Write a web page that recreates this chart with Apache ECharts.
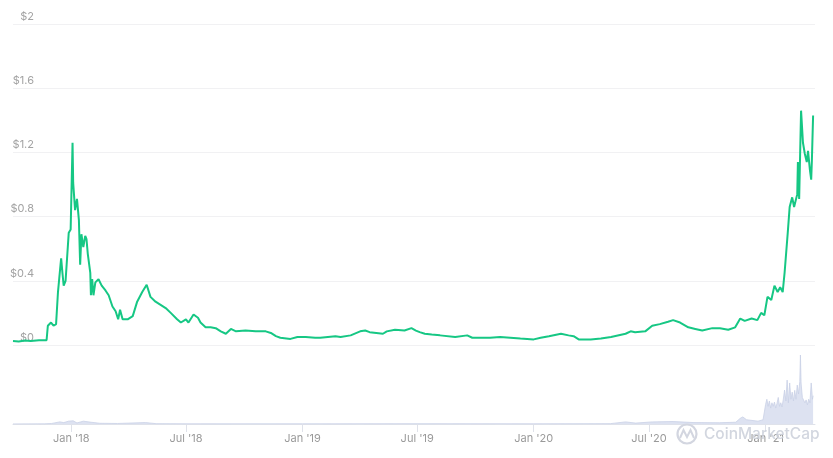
<!DOCTYPE html>
<html>
<head>
<meta charset="utf-8">
<script src="https://cdn.jsdelivr.net/npm/echarts@6/dist/echarts.min.js"></script>
<style>
html,body{margin:0;padding:0;background:#fff;}
#chart{width:833px;height:458px;}
</style>
</head>
<body>
<div id="chart"></div>
<script>
const priceDates = [
'2017-10-01','2017-10-10','2017-10-20','2017-10-29','2017-11-11','2017-11-23','2017-11-25','2017-11-30',
'2017-12-04','2017-12-08','2017-12-11','2017-12-15','2017-12-16','2017-12-18','2017-12-20','2017-12-23',
'2017-12-28','2017-12-31','2018-01-01','2018-01-03','2018-01-04','2018-01-07','2018-01-10','2018-01-13',
'2018-01-15','2018-01-17','2018-01-20','2018-01-23','2018-01-25','2018-01-27','2018-01-31','2018-02-01',
'2018-02-03','2018-02-05','2018-02-08','2018-02-13','2018-02-18','2018-02-24','2018-03-01','2018-03-07',
'2018-03-12','2018-03-16','2018-03-19','2018-03-23','2018-03-31','2018-04-08','2018-04-15','2018-04-23',
'2018-04-30','2018-05-06','2018-05-14','2018-05-22','2018-05-30','2018-06-07','2018-06-17','2018-06-23',
'2018-07-01','2018-07-05','2018-07-13','2018-07-20','2018-07-24','2018-08-01','2018-08-09','2018-08-17',
'2018-08-25','2018-09-02','2018-09-10','2018-09-18','2018-10-03','2018-10-19','2018-11-04','2018-11-12',
'2018-11-20','2018-11-27','2018-12-13','2018-12-24','2019-01-06','2019-01-21','2019-01-29','2019-02-22',
'2019-03-02','2019-03-18','2019-04-02','2019-04-10','2019-04-17','2019-05-08','2019-05-14','2019-05-27',
'2019-06-11','2019-06-22','2019-06-29','2019-07-05','2019-07-13','2019-07-24','2019-08-06','2019-08-30',
'2019-09-18','2019-09-26','2019-10-24','2019-11-09','2019-12-11','2020-01-01','2020-01-12','2020-01-25',
'2020-02-13','2020-02-25','2020-03-04','2020-03-12','2020-03-31','2020-04-16','2020-05-02','2020-05-25',
'2020-06-02','2020-06-09','2020-06-25','2020-07-06','2020-07-18','2020-07-31','2020-08-08','2020-08-19',
'2020-09-01','2020-09-12','2020-09-23','2020-10-09','2020-10-21','2020-11-03','2020-11-14','2020-11-22',
'2020-11-29','2020-12-10','2020-12-19','2020-12-25','2020-12-30','2021-01-04','2021-01-10','2021-01-15',
'2021-01-20','2021-01-24','2021-01-28','2021-01-31','2021-02-05','2021-02-08','2021-02-12','2021-02-15',
'2021-02-20','2021-02-21','2021-02-23','2021-02-26','2021-03-01','2021-03-04','2021-03-07','2021-03-09',
'2021-03-12','2021-03-14','2021-03-15','2021-03-17'
];
const priceValues = [
0.025,0.022,0.028,0.025,0.03,0.03,0.12,0.14,
0.12,0.13,0.33,0.50,0.54,0.45,0.37,0.40,
0.70,0.72,0.72,1.26,1.01,0.84,0.91,0.78,
0.50,0.69,0.61,0.68,0.66,0.57,0.45,0.31,
0.41,0.31,0.39,0.41,0.37,0.34,0.31,0.24,
0.21,0.16,0.22,0.16,0.16,0.18,0.27,0.33,
0.375,0.30,0.27,0.25,0.23,0.20,0.16,0.14,
0.16,0.14,0.19,0.17,0.14,0.11,0.11,0.105,
0.085,0.07,0.10,0.085,0.09,0.085,0.085,0.075,
0.055,0.045,0.038,0.05,0.05,0.045,0.045,0.055,
0.05,0.06,0.085,0.09,0.08,0.07,0.085,0.095,
0.09,0.105,0.09,0.08,0.07,0.065,0.06,0.05,
0.06,0.045,0.045,0.05,0.04,0.035,0.045,0.055,
0.07,0.06,0.055,0.035,0.035,0.04,0.05,0.07,
0.085,0.08,0.085,0.12,0.13,0.145,0.155,0.14,
0.11,0.10,0.09,0.105,0.105,0.095,0.11,0.165,
0.15,0.165,0.155,0.20,0.185,0.30,0.28,0.37,
0.33,0.36,0.33,0.45,0.70,0.86,0.92,0.86,
0.94,1.14,0.91,1.46,1.26,1.19,1.14,1.21,
1.09,1.03,1.14,1.43
];

const volDates = [
'2017-10-01','2017-11-20','2017-12-01','2017-12-14','2017-12-20','2017-12-28','2018-01-04','2018-01-10',
'2018-01-20','2018-02-01','2018-02-15','2018-03-15','2018-04-28','2018-05-15','2018-07-01','2019-01-01',
'2019-07-01','2020-01-01','2020-05-01','2020-05-25','2020-06-10','2020-07-06','2020-08-08','2020-09-10',
'2020-10-20','2020-11-15','2020-11-22','2020-11-26','2020-12-02','2020-12-20','2020-12-28',
'2021-01-01','2021-01-03','2021-01-05','2021-01-07','2021-01-09','2021-01-11','2021-01-13','2021-01-15',
'2021-01-17','2021-01-19','2021-01-21','2021-01-23','2021-01-25','2021-01-27','2021-01-29','2021-01-31',
'2021-02-02','2021-02-04','2021-02-06','2021-02-08','2021-02-10','2021-02-12','2021-02-14','2021-02-16',
'2021-02-18','2021-02-20','2021-02-22','2021-02-24','2021-02-25','2021-02-26','2021-02-28','2021-03-02',
'2021-03-04','2021-03-06','2021-03-08','2021-03-10','2021-03-12','2021-03-14','2021-03-16','2021-03-17'
];
const volValues = [
0.02,0.05,0.15,0.6,0.4,0.8,0.9,0.3,
0.8,0.5,0.2,0.15,0.4,0.1,0.06,0.05,
0.08,0.06,0.1,0.6,0.25,0.6,0.7,0.4,
0.35,0.5,1.6,2.0,1.2,0.8,1.2,
5.5,7.0,5.0,6.5,4.5,6.0,5.0,6.2,
4.5,5.8,7.5,5.0,6.0,4.8,7.0,9.6,
6.5,12.4,6.0,11.6,7.0,9.0,6.5,9.5,
7.0,11.0,8.5,12.0,19.5,11.6,7.5,8.0,
6.0,6.8,5.4,7.0,6.0,11.6,7.0,8.0
];

const tickDates = ['2018-01-01','2018-07-01','2019-01-01','2019-07-01','2020-01-01','2020-07-01','2021-01-01'];
const tickLabels = ["Jan '18","Jul '18","Jan '19","Jul '19","Jan '20","Jul '20","Jan '21"];

const P = (s) => Date.UTC(+s.slice(0, 4), +s.slice(5, 7) - 1, +s.slice(8, 10));
const tickTimes = tickDates.map(P);
const xMin = P('2017-10-01');
const xMax = P('2021-03-20');

const chart = echarts.init(document.getElementById('chart'), null, {renderer: 'canvas'});
const font = 'Inter, "Noto Sans", sans-serif';
const option = {
  animation: false,
  backgroundColor: '#fff',
  grid: [
    {left: 13, right: 18, top: 24, height: 321},
    {left: 13, right: 18, top: 355, height: 69}
  ],
  xAxis: [
    {type: 'value', gridIndex: 0, min: xMin, max: xMax, show: false, splitLine: {show: false}},
    {type: 'value', gridIndex: 1, min: xMin, max: xMax,
     axisLine: {show: true, lineStyle: {color: '#dfe2ea', width: 1}},
     axisTick: {show: true, length: 8, lineStyle: {color: '#dfe2ea'}, customValues: tickTimes},
     splitLine: {show: false},
     axisLabel: {customValues: tickTimes, color: '#9a9a9a', fontSize: 11, fontFamily: font, margin: 9,
       formatter: function (v) {
         let best = 0, bd = Infinity;
         tickTimes.forEach((t, i) => { const d = Math.abs(t - v); if (d < bd) { bd = d; best = i; } });
         return tickLabels[best];
       }}
    }
  ],
  yAxis: [
    {type: 'value', gridIndex: 0, min: 0, max: 2, interval: 0.4,
     axisLine: {show: false}, axisTick: {show: false},
     splitLine: {show: true, lineStyle: {color: '#f1f1f3', width: 1}},
     axisLabel: {inside: true, margin: 21, align: 'right', verticalAlign: 'bottom', padding: [0, 0, 2, 0],
       color: '#a3a3a3', fontSize: 11, fontFamily: font,
       formatter: function (v) { return '$' + parseFloat(v.toFixed(2)); }}
    },
    {type: 'value', gridIndex: 1, min: 0, max: 19.5, show: false, splitLine: {show: false}}
  ],
  series: [
    {type: 'line', xAxisIndex: 1, yAxisIndex: 1,
     data: volDates.map((d, i) => [P(d), volValues[i]]),
     showSymbol: false, symbol: 'none',
     lineStyle: {color: '#c9d0e6', width: 0.8},
     areaStyle: {color: '#dde2f1', opacity: 1}
    },
    {type: 'line', xAxisIndex: 0, yAxisIndex: 0,
     data: priceDates.map((d, i) => [P(d), priceValues[i]]),
     showSymbol: false, symbol: 'none',
     lineStyle: {color: '#16c784', width: 2},
     z: 5
    }
  ],
  graphic: [
    {type: 'circle', shape: {cx: 687, cy: 434, r: 9.5}, style: {fill: 'none', stroke: '#d3d6e0', lineWidth: 2.2}, z: 100},
    {type: 'polyline', shape: {points: [[680, 438], [683.5, 430], [687, 437], [690.5, 430], [694, 438]]},
     style: {fill: 'none', stroke: '#d3d6e0', lineWidth: 2}, z: 100},
    {type: 'text', x: 704, y: 434, style: {text: 'CoinMarketCap', fill: 'rgba(205,209,220,0.9)', fontSize: 15.5,
      fontFamily: font, fontWeight: 500, verticalAlign: 'middle'}, z: 100}
  ]
};
chart.setOption(option);
</script>
</body>
</html>
